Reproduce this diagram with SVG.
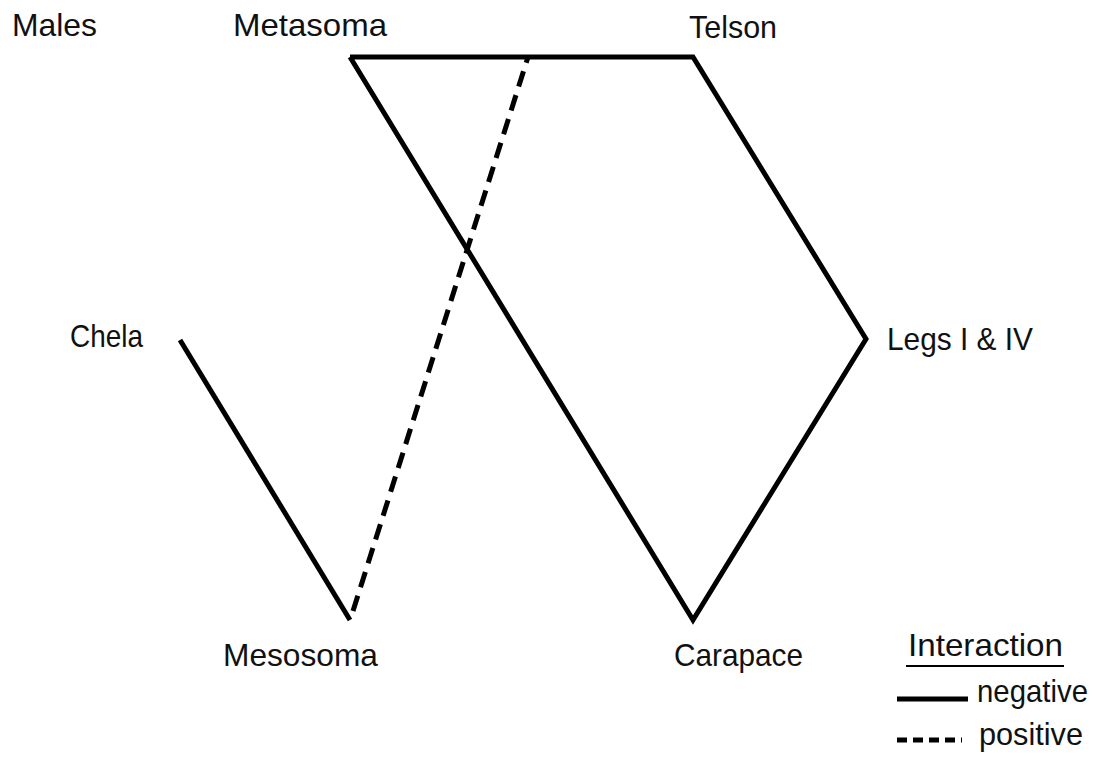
<svg xmlns="http://www.w3.org/2000/svg" width="1107" height="778" viewBox="0 0 1107 778">
<style>
text{font-family:"Liberation Sans",Arial,sans-serif;font-size:32px;fill:#111}
.ln{stroke:#000;stroke-width:5;fill:none;stroke-linejoin:miter}
.dash{stroke:#000;stroke-width:5;fill:none;stroke-dasharray:16 9}
</style>
<rect width="1107" height="778" fill="#fff"/>
<text x="12" y="36" textLength="85" lengthAdjust="spacingAndGlyphs">Males</text>
<g id="connectors">
<polyline class="ln" points="180,340 350,620"/>
<polyline class="ln" points="350,57 693,57 866,339 693,620 350,57"/>
<line class="dash" x1="353" y1="611" x2="528" y2="57"/>
</g>
<g id="metasoma"><text x="233" y="36" textLength="154" lengthAdjust="spacingAndGlyphs">Metasoma</text></g>
<g id="telson"><text x="689" y="38" textLength="88" lengthAdjust="spacingAndGlyphs">Telson</text></g>
<g id="chela"><text x="70" y="347" textLength="73" lengthAdjust="spacingAndGlyphs">Chela</text></g>
<g id="legs"><text x="887" y="350" textLength="146" lengthAdjust="spacingAndGlyphs">Legs I &amp; IV</text></g>
<g id="mesosoma"><text x="223" y="666" textLength="155" lengthAdjust="spacingAndGlyphs">Mesosoma</text></g>
<g id="carapace"><text x="674" y="666" textLength="129" lengthAdjust="spacingAndGlyphs">Carapace</text></g>
<g id="legend">
<text x="908" y="656" textLength="155" lengthAdjust="spacingAndGlyphs">Interaction</text>
<line x1="906" y1="666" x2="1064" y2="666" stroke="#000" stroke-width="2"/>
<line class="ln" x1="897" y1="699" x2="968" y2="699"/>
<text x="977" y="702" textLength="111" lengthAdjust="spacingAndGlyphs">negative</text>
<line x1="897" y1="740" x2="962" y2="740" stroke="#000" stroke-width="5" stroke-dasharray="10 6"/>
<text x="979" y="745" textLength="104" lengthAdjust="spacingAndGlyphs">positive</text>
</g>
</svg>
